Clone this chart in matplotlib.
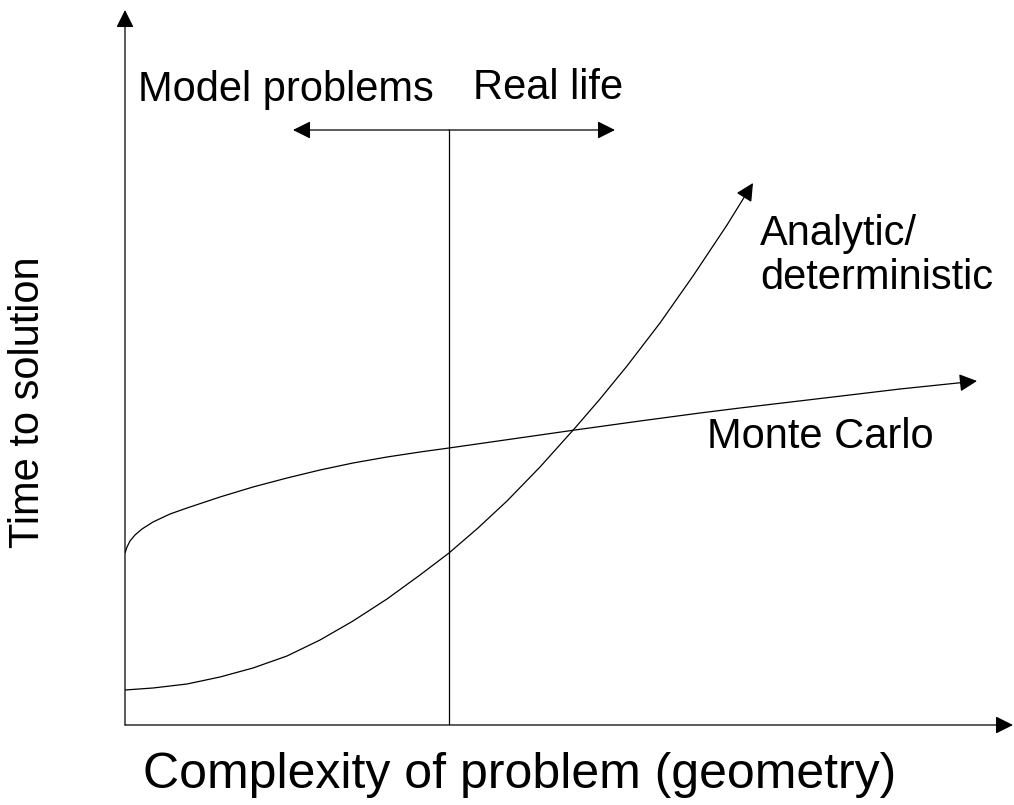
import matplotlib
matplotlib.use('Agg')
import matplotlib.pyplot as plt

plt.rcParams['font.family'] = ['Liberation Sans', 'DejaVu Sans']

# curve values (x = complexity, y = time)
mc_x = [0, 2, 5, 10, 17, 28, 45, 62, 95, 128, 162, 195, 228, 262, 295,
        324, 387, 450, 515, 575, 615, 708, 775, 852]
mc_y = [172, 178, 184, 190, 196, 203, 211, 217, 228, 238, 247, 255, 262, 268, 273,
        277, 286, 295, 304, 312, 317, 328, 336, 344]

an_x = [0, 28, 62, 95, 128, 162, 195, 228, 262, 295, 324, 353, 382, 415,
        450, 475, 502, 535, 568, 602, 628]
an_y = [35, 37, 41, 48, 57, 69, 85, 104, 126, 150, 172, 197, 224, 258,
        297, 326, 359, 402, 449, 500, 542]

x_max = 888
y_max = 715
divider_x = 324
span_y = 595
span_left = 168
span_right = 490

W, H = 1014, 805
ox, oy = 125, 725   # origin in pixels

fig = plt.figure(figsize=(W / 100, H / 100), dpi=100)
ax = fig.add_axes([ox / W, (H - oy) / H, (W - ox) / W, oy / H])
ax.set_xlim(0, W - ox)
ax.set_ylim(0, oy)
ax.axis('off')

lw = 0.9
arrow = dict(arrowstyle='-|>', mutation_scale=27, color='black',
             lw=lw, shrinkA=0, shrinkB=0)

# axes
ax.annotate('', xy=(0, y_max), xytext=(0, 0), arrowprops=arrow)
ax.annotate('', xy=(x_max, 0), xytext=(0, 0), arrowprops=arrow)

# divider and model/real-life span
ax.plot([divider_x, divider_x], [0, span_y], color='black', lw=lw)
ax.annotate('', xy=(span_left, span_y), xytext=(divider_x, span_y), arrowprops=arrow)
ax.annotate('', xy=(span_right, span_y), xytext=(divider_x, span_y), arrowprops=arrow)

# curves
ax.plot(mc_x[:-1], mc_y[:-1], color='black', lw=lw, solid_capstyle='butt')
ax.annotate('', xy=(mc_x[-1], mc_y[-1]), xytext=(mc_x[-2], mc_y[-2]), arrowprops=arrow)
ax.plot(an_x[:-1], an_y[:-1], color='black', lw=lw, solid_capstyle='butt')
ax.annotate('', xy=(an_x[-1], an_y[-1]), xytext=(an_x[-2], an_y[-2]), arrowprops=arrow)

# labels (figure pixel positions)
fs = 30
def label(x, y, s, size=fs, **kw):
    fig.text(x / W, 1 - y / H, s, fontsize=size, **kw)

label(138, 90, 'Model problems', ha='left', va='center')
label(473, 88, 'Real life', ha='left', va='center')
label(760, 256, 'Analytic/\ndeterministic', ha='left', va='center', linespacing=1.15)
label(707, 437, 'Monte Carlo', ha='left', va='center')
label(520, 775, 'Complexity of problem (geometry)', size=36, ha='center', va='center')
label(28, 402, 'Time to solution', ha='center', va='center', rotation=90)

fig.savefig('out.png', dpi=100)
